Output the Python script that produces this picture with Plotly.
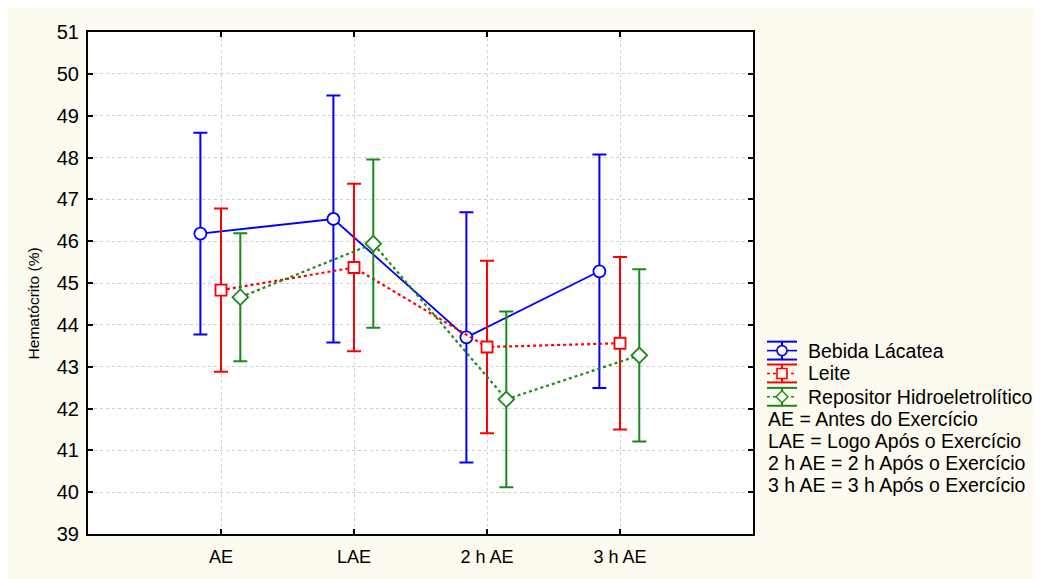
import plotly.graph_objects as go

categories = ["AE", "LAE", "2 h AE", "3 h AE"]
series_names = ["Bebida Lácatea", "Leite", "Repositor Hidroeletrolítico"]
bebida_mean = [46.18, 46.53, 43.70, 45.28]
bebida_err = [2.41, 2.95, 2.99, 2.79]
leite_mean = [44.83, 45.37, 43.47, 43.56]
leite_err = [1.95, 2.00, 2.06, 2.06]
repositor_mean = [44.66, 45.94, 42.22, 43.27]
repositor_err = [1.53, 2.01, 2.10, 2.06]
legend_notes = ["AE = Antes do Exercício", "LAE = Logo Após o Exercício",
                "2 h AE = 2 h Após o Exercício", "3 h AE = 3 h Após o Exercício"]
y_title = "Hematócrito (%)"

FONT = "Liberation Sans, Arial, sans-serif"
CREAM = "rgb(253,250,240)"
base_x = list(range(1, len(categories) + 1))

# figure geometry (page body adds 8px offset)
W, H = 1034, 571
ML, MR, MT, MB = 80, 289, 24, 42
PW, PH = W - ML - MR, H - MT - MB


def px(X, Y):
    """window pixel -> paper coords"""
    return (X - 8 - ML) / PW, (H - MB - (Y - 8)) / PH


styles = [
    dict(color="#0000ff", dash="solid", symbol="circle", size=12, offset=-0.155, lw=1.8),
    dict(color="#ff0000", dash="dot", symbol="square", size=11, offset=0.0, lw=2.2),
    dict(color="#1a8a1a", dash="dot", symbol="diamond", size=12, offset=0.145, lw=2.2),
]
means = [bebida_mean, leite_mean, repositor_mean]
errs = [bebida_err, leite_err, repositor_err]

fig = go.Figure()
for name, m, e, st in zip(series_names, means, errs, styles):
    col = st["color"]
    fig.add_trace(go.Scatter(
        x=[b + st["offset"] for b in base_x], y=m, name=name, mode="lines+markers",
        line=dict(color=col, width=st["lw"], dash=st["dash"]),
        marker=dict(symbol=st["symbol"], size=st["size"], color="white",
                    line=dict(width=1.8, color=col)),
        error_y=dict(type="data", array=e, visible=True, color=col, thickness=2, width=7),
        showlegend=False,
    ))

# manual legend (error-bar style symbols)
legend_centers = [352.5, 375.5, 399]
shapes = []
annotations = []
for name, st, cy in zip(series_names, styles, legend_centers):
    col = st["color"]
    x0, x1, xc = 767, 797, 782
    cap = 9
    for yy in (cy - cap, cy + cap):
        a, b = px(x0, yy), px(x1, yy)
        shapes.append(dict(type="line", xref="paper", yref="paper", x0=a[0], y0=a[1], x1=b[0], y1=b[1],
                           line=dict(color=col, width=2)))
    a, b = px(xc, cy - cap), px(xc, cy + cap)
    shapes.append(dict(type="line", xref="paper", yref="paper", x0=a[0], y0=a[1], x1=b[0], y1=b[1],
                       line=dict(color=col, width=2)))
    a, b = px(x0, cy), px(x1, cy)
    shapes.append(dict(type="line", xref="paper", yref="paper", x0=a[0], y0=a[1], x1=b[0], y1=b[1],
                       line=dict(color=col, width=1.6,
                                 dash="solid" if st["dash"] == "solid" else "dot")))
    r = 5
    if st["symbol"].startswith("circle"):
        a, b = px(xc - r, cy + r), px(xc + r, cy - r)
        shapes.append(dict(type="circle", xref="paper", yref="paper", x0=a[0], y0=a[1], x1=b[0], y1=b[1],
                           fillcolor=CREAM, line=dict(color=col, width=1.6)))
    elif st["symbol"].startswith("square"):
        a, b = px(xc - r, cy + r), px(xc + r, cy - r)
        shapes.append(dict(type="rect", xref="paper", yref="paper", x0=a[0], y0=a[1], x1=b[0], y1=b[1],
                           fillcolor=CREAM, line=dict(color=col, width=1.6)))
    else:
        pts = [px(xc, cy - r - 1), px(xc + r + 1, cy), px(xc, cy + r + 1), px(xc - r - 1, cy)]
        path = "M " + " L ".join(f"{p[0]},{p[1]}" for p in pts) + " Z"
        shapes.append(dict(type="path", xref="paper", yref="paper", path=path,
                           fillcolor=CREAM, line=dict(color=col, width=1.4)))
    tx, ty = px(806, cy)
    annotations.append(dict(xref="paper", yref="paper", x=tx, y=ty, xanchor="left", yanchor="middle",
                            text=name, showarrow=False,
                            font=dict(family=FONT, size=19.5, color="black")))

note_centers = [421, 443.5, 465.5, 488]
for txt, cy in zip(legend_notes, note_centers):
    tx, ty = px(766, cy)
    annotations.append(dict(xref="paper", yref="paper", x=tx, y=ty, xanchor="left", yanchor="middle",
                            text=txt, showarrow=False,
                            font=dict(family=FONT, size=19.5, color="black")))

tx, ty = px(33, 305)
annotations.append(dict(xref="paper", yref="paper", x=tx, y=ty, xanchor="center", yanchor="middle",
                        text=y_title, textangle=-90, showarrow=False,
                        font=dict(family=FONT, size=15.5, color="black")))

axis_common = dict(showline=True, linecolor="black", linewidth=2, mirror="ticks",
                   ticks="inside", ticklen=5, tickcolor="black", tickwidth=1.5,
                   showgrid=True, gridcolor="#cfcfcf", griddash="dot", gridwidth=1,
                   zeroline=False)

fig.update_layout(
    width=W, height=H,
    margin=dict(l=ML, r=MR, t=MT, b=MB),
    paper_bgcolor=CREAM, plot_bgcolor="white",
    font=dict(family=FONT, color="black"),
    xaxis=dict(range=[0, 5], tickvals=base_x, ticktext=categories, ticklabelstandoff=5,
               tickfont=dict(family=FONT, size=18, color="black"), **axis_common),
    yaxis=dict(range=[39, 51], dtick=1, ticklabelstandoff=3,
               tickfont=dict(family=FONT, size=20, color="black"), **axis_common),
    shapes=shapes,
    annotations=annotations,
    showlegend=False,
)

fig.write_html("out.html")
